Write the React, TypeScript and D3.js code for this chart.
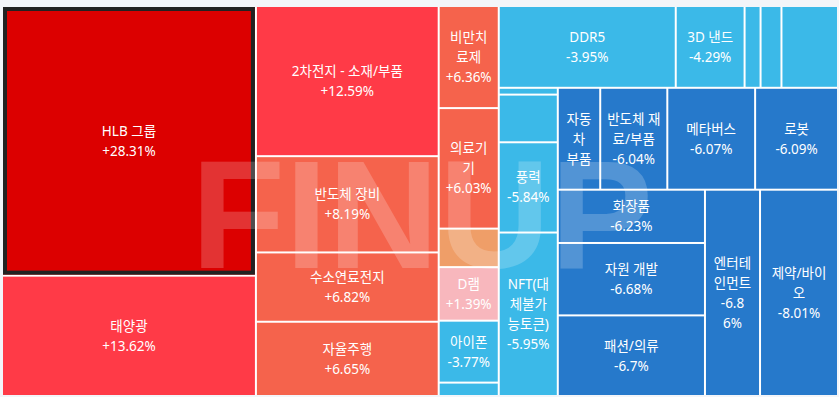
import { useMemo } from 'react';
import * as d3 from 'd3';

const W = 839;
const H = 397;
const FONT_FAMILY = "'Noto Sans', 'Noto Sans CJK KR', sans-serif";
const FONT_SIZE = 13.5;
const LINE_H = 20;

// themes in board order (by change, desc)
const themes = [
  'HLB 그룹', '태양광',
  '2차전지 - 소재/부품', '반도체 장비', '수소연료전지', '자율주행',
  '비만치료제', '의료기기', '원자력발전', 'D램', '아이폰', '시스템반도체',
  'DDR5', '3D 낸드', '은행', '증권', '스마트팩토리(스마트공장)',
  '조선', '우주항공과 국방', '풍력', 'NFT(대체불가능토큰)',
  '자동차 부품', '반도체 재료/부품', '메타버스', '로봇',
  '화장품', '자원 개발', '패션/의류',
  '엔터테인먼트', '제약/바이오',
];

// daily change, %
const changes = [
  28.31, 13.62,
  12.59, 8.19, 6.82, 6.65,
  6.36, 6.03, 3.12, 1.39, -3.77, -3.85,
  -3.95, -4.29, -4.41, -4.55, -4.87,
  -5.21, -5.47, -5.84, -5.95,
  -6.01, -6.04, -6.07, -6.09,
  -6.23, -6.68, -6.7,
  -6.86, -8.01,
];

// tile weight (market size)
const sizes = [
  681, 304,
  273, 175, 126, 135,
  61, 72, 23, 32, 37, 8,
  144, 56, 13, 17, 46,
  4, 28, 53, 96,
  43, 68, 89, 84,
  78, 106, 118,
  113, 160,
];

// which block of the board each theme sits in
const blockOf = [
  'A', 'A',
  'B', 'B', 'B', 'B',
  'C', 'C', 'C', 'C', 'C', 'C',
  'D1', 'D1', 'D1', 'D1', 'D1',
  'E', 'E', 'E', 'E',
  'F1', 'F1', 'F1', 'F1',
  'G1', 'G1', 'G1',
  'G', 'G',
];

// block tree: [block, parent]
const blocks: [string, string | null][] = [
  ['root', null],
  ['A', 'root'], ['B', 'root'], ['C', 'root'], ['D', 'root'],
  ['D1', 'D'], ['D2', 'D'],
  ['E', 'D2'], ['F', 'D2'],
  ['F1', 'F'], ['G', 'F'],
  ['G1', 'G'],
];

const changeThresholds = [-6, 0, 2, 5, 10, 20];
const changeColors = ['#2679cb', '#3bb9e8', '#f8b7bd', '#ef9e68', '#f5634c', '#ff3a47', '#dc0000'];

type Row = { id: string; parent: string | null; i?: number };

let ctx: CanvasRenderingContext2D | null = null;
function measure(s: string) {
  if (!ctx) {
    ctx = document.createElement('canvas').getContext('2d');
    ctx!.font = `${FONT_SIZE}px ${FONT_FAMILY}`;
  }
  return ctx!.measureText(s).width;
}

// chars that may not start a line
const noLineStart = /[%)\]]/;

// word wrap, long words broken char by char
function wrap(text: string, maxW: number): string[] | null {
  const lines: string[] = [];
  let cur = '';
  for (const word of text.split(' ')) {
    const cand = cur ? cur + ' ' + word : word;
    if (measure(cand) <= maxW) { cur = cand; continue; }
    if (measure(word) <= maxW) {
      if (cur) lines.push(cur);
      cur = word;
      continue;
    }
    let rest = cur ? cur + ' ' : '';
    for (const ch of Array.from(word)) {
      if (measure(rest + ch) <= maxW) { rest += ch; continue; }
      if (!rest.trim() || measure(ch) > maxW) return null;
      if (noLineStart.test(ch) && rest.trim().length > 1) {
        lines.push(rest.slice(0, -1).trimEnd());
        rest = rest.slice(-1) + ch;
      } else {
        lines.push(rest.trimEnd());
        rest = ch;
      }
    }
    cur = rest;
  }
  if (cur) lines.push(cur);
  return lines;
}

const fmt = (c: number) => `${c > 0 ? '+' : ''}${c}%`;

export default function App() {
  const margin = { top: 7, right: 2, bottom: 2, left: 3 };
  const innerW = W - margin.left - margin.right;
  const innerH = H - margin.top - margin.bottom;

  const leaves = useMemo(() => {
    const rows: Row[] = blocks.map(([id, parent]) => ({ id, parent }));
    themes.forEach((_, i) => rows.push({ id: `t${i}`, parent: blockOf[i], i }));

    const root = d3.stratify<Row>()
      .id(d => d.id)
      .parentId(d => d.parent)(rows)
      .sum(d => (d.i != null ? sizes[d.i] : 0));

    d3.treemap<Row>()
      .tile(d3.treemapSliceDice)
      .size([innerW, innerH])
      .paddingInner(2)(root);

    return root.leaves() as d3.HierarchyRectangularNode<Row>[];
  }, [innerW, innerH]);

  const color = d3.scaleThreshold<number, string>()
    .domain(changeThresholds)
    .range(changeColors);

  const padX = 5.6;
  const padY = 4;

  return (
    <svg width={W} height={H} style={{ position: 'absolute', left: 0, top: 0, display: 'block' }}>
      <rect width={W} height={H} fill="#f3f5f9" />
      <g transform={`translate(${margin.left},${margin.top})`}>
        <rect width={innerW} height={innerH} fill="#fff" />
        {leaves.map(d => {
          const i = d.data.i!;
          const w = d.x1 - d.x0;
          const h = d.y1 - d.y0;
          return (
            <g key={d.data.id}>
              <rect x={d.x0} y={d.y0} width={w} height={h} fill={color(changes[i])} />
              {i === 0 && (
                <rect x={d.x0 + 2} y={d.y0 + 2} width={w - 4} height={h - 4}
                  fill="none" stroke="#222" strokeWidth={4} />
              )}
            </g>
          );
        })}
        {/* watermark */}
        <text x={188} y={261} fontFamily="'Liberation Sans', Arial, sans-serif" fontWeight="bold"
          fontSize={154} fill="#fff" opacity={0.2} style={{ pointerEvents: 'none' }}>FINUP</text>
        {leaves.map(d => {
          const i = d.data.i!;
          const w = d.x1 - d.x0;
          const h = d.y1 - d.y0;
          const avail = w - padX * 2;
          if (avail <= 0) return null;
          const nameLines = wrap(themes[i], avail);
          if (!nameLines || nameLines.length * LINE_H > h - padY * 2) return null;
          const valLines = wrap(fmt(changes[i]), avail);
          let lines = nameLines;
          if (valLines && (nameLines.length + valLines.length) * LINE_H <= h - padY * 2) {
            lines = nameLines.concat(valLines);
          }
          const cx = (d.x0 + d.x1) / 2;
          const cy = (d.y0 + d.y1) / 2;
          return (
            <text key={`l${d.data.id}`} fontFamily={FONT_FAMILY} fontSize={FONT_SIZE}
              fill="#fff" textAnchor="middle">
              {lines.map((ln, k) => (
                <tspan key={k} x={cx} y={cy - ((lines.length - 1) * LINE_H) / 2 + k * LINE_H}
                  dominantBaseline="central">{ln}</tspan>
              ))}
            </text>
          );
        })}
      </g>
    </svg>
  );
}
